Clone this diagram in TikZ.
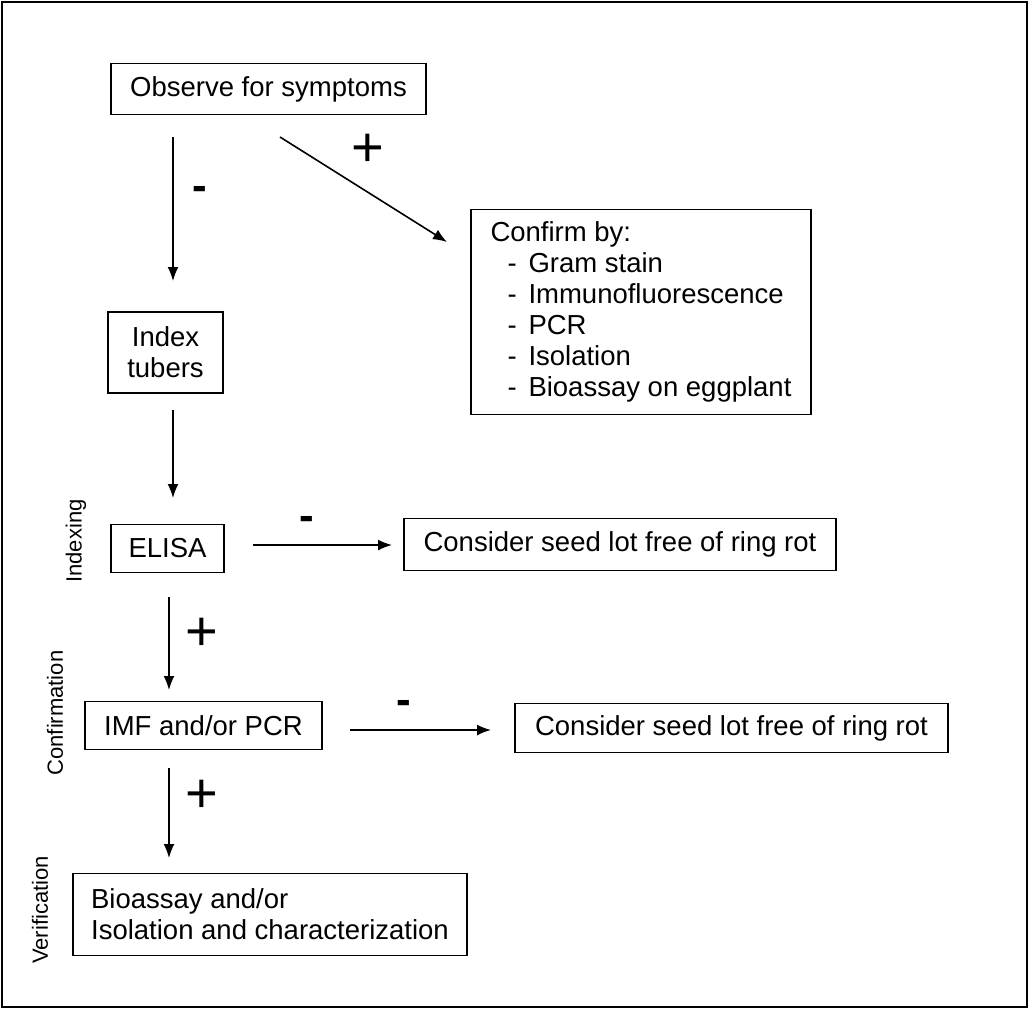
\documentclass[tikz,border=0pt]{standalone}
\usepackage{fontspec}
\setmainfont{Liberation Sans}
\usetikzlibrary{arrows.meta}
\newcommand{\itm}[1]{\hspace*{17pt}\makebox[21pt][l]{-}#1}
\begin{document}
\begin{tikzpicture}[x=1pt,y=-1pt,
  box/.style={draw, line width=1.6pt, inner sep=0pt, font=\fontsize{27.5}{31}\selectfont},
  arr/.style={line width=1.6pt, -{Latex[length=14pt,width=11pt]}},
  plus/.style={font=\fontsize{56}{56}\selectfont, inner sep=0pt},
  minus/.style={font=\bfseries\fontsize{44}{44}\selectfont, inner sep=0pt},
  side/.style={rotate=90, font=\fontsize{22}{24}\selectfont, inner sep=0pt}]
\useasboundingbox (0,0) rectangle (1029,1010);
\draw[line width=1.6pt] (2,2) rectangle (1027,1007);
% boxes
\node[box, minimum width=315pt, minimum height=51pt] (obs) at (268.5,89) {Observe for symptoms};
\node[box, minimum width=115pt, minimum height=81pt, align=center] (idx) at (165.5,352.5) {Index\\tubers};
\node[box, minimum width=340pt, minimum height=205pt, align=left] (conf) at (641,312)
  {Confirm by:\\\itm{Gram stain}\\\itm{Immunofluorescence}\\\itm{PCR}\\\itm{Isolation}\\\itm{Bioassay on eggplant}};
\node[box, minimum width=113pt, minimum height=48pt] (elisa) at (167.5,548.5) {ELISA};
\node[box, minimum width=432pt, minimum height=52pt] (free1) at (620,544.5) {Consider seed lot free of ring rot};
\node[box, minimum width=237pt, minimum height=48pt] (imf) at (203.5,725.5) {IMF and/or PCR};
\node[box, minimum width=433pt, minimum height=49pt] (free2) at (731.5,728) {Consider seed lot free of ring rot};
\node[box, minimum width=394pt, minimum height=82pt, align=left] (bio) at (270,914.5)
  {Bioassay and/or\\Isolation and characterization};
% side labels
\node[side] (lidx) at (76,541) {Indexing};
\node[side] (lconf) at (55,713) {Confirmation};
\node[side] (lver) at (40,910) {Verification};
% arrow end points
\coordinate (a1s) at (173,137); \coordinate (a1e) at (173,281);
\coordinate (a2s) at (280,137); \coordinate (a2e) at (447,242);
\coordinate (a3s) at (173,410); \coordinate (a3e) at (173,498);
\coordinate (a4s) at (253,545); \coordinate (a4e) at (392,545);
\coordinate (a5s) at (169,597); \coordinate (a5e) at (169,690);
\coordinate (a6s) at (350,730); \coordinate (a6e) at (491,730);
\coordinate (a7s) at (169,768); \coordinate (a7e) at (169,858);
\draw[arr] (a1s) -- (a1e);
\draw[arr] (a2s) -- (a2e);
\draw[arr] (a3s) -- (a3e);
\draw[arr] (a4s) -- (a4e);
\draw[arr] (a5s) -- (a5e);
\draw[arr] (a6s) -- (a6e);
\draw[arr] (a7s) -- (a7e);
% signs
\node[minus] (m1) at (200,193) {-};
\node[plus] (p1) at (368,150) {+};
\node[minus] (m2) at (307,523) {-};
\node[plus] (p2) at (202,634) {+};
\node[minus] (m3) at (404,707) {-};
\node[plus] (p3) at (202,796) {+};
\end{tikzpicture}
\end{document}
